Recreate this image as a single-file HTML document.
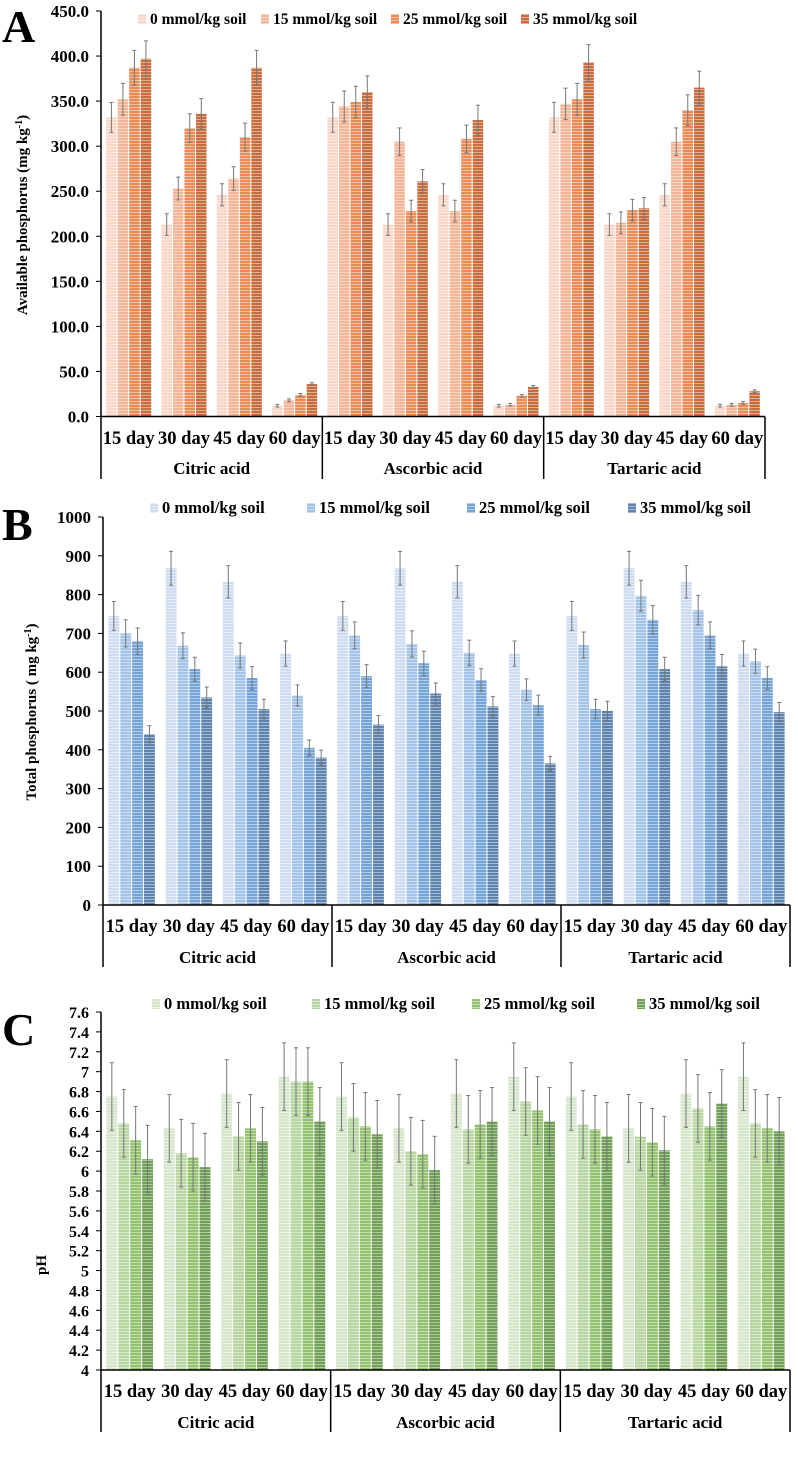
<!DOCTYPE html><html><head><meta charset="utf-8"><style>body{margin:0;background:#fff}svg{display:block}text{font-family:"Liberation Serif",serif;font-weight:bold;fill:#000}</style></head><body>
<svg id="s" width="798" height="1470" xmlns="http://www.w3.org/2000/svg"></svg>
<script>
const S=document.getElementById('s');let h='';
const cols=[['#f9d6c6','#f3b596','#e98b55','#c76c3c'],['#cddcf0','#a2c3e7','#74a3d5','#5c82ae'],['#d6e6cb','#b6d5a0','#92c26d','#70a056']];
let defs='<defs>';
cols.forEach((c,i)=>c.forEach((col,j)=>{defs+=`<pattern id="p${i}${j}" width="4" height="3" patternUnits="userSpaceOnUse"><rect width="4" height="3" fill="${col}"/><rect y="2" width="4" height="1" fill="#fff" opacity="0.45"/></pattern>`}));
defs+='</defs>';h+=defs;
function panel(o){
 const {pi,x0,x1,yb,yt,vmin,vmax,ticks,fmt,data,err,ty,gy,by,leg,legy,letter,ly,lab,labx,laby,tfs,lfs}=o;
 const sc=v=>yb-(v-vmin)/(vmax-vmin)*(yb-yt);
 ticks.forEach(t=>{h+=`<text x="${x0-12}" y="${sc(t)+6}" font-size="${tfs}" text-anchor="end">${fmt(t)}</text><line x1="${x0-5}" x2="${x0}" y1="${sc(t)}" y2="${sc(t)}" stroke="#000"/>`});
 const gw=(x1-x0)/3,sw=gw/4;
 const groups=['Citric acid','Ascorbic acid','Tartaric acid'],days=['15 day','30 day','45 day','60 day'];
 for(let g=0;g<3;g++){for(let d=0;d<4;d++){const cx=x0+g*gw+d*sw+sw/2;
  for(let k=0;k<4;k++){const v=data[g][d][k];const bw=sw*0.19;const bx=cx-2*bw-1.5+k*(bw+1);
   h+=`<rect x="${bx}" y="${sc(v)}" width="${bw}" height="${yb-sc(v)}" fill="url(#p${pi}${k})"/>`;
   const e=err(v),ex=bx+bw/2;h+=`<g stroke="#777" stroke-width="1"><line x1="${ex}" x2="${ex}" y1="${sc(v+e)}" y2="${sc(v-e)}"/><line x1="${ex-2}" x2="${ex+2}" y1="${sc(v+e)}" y2="${sc(v+e)}"/><line x1="${ex-2}" x2="${ex+2}" y1="${sc(v-e)}" y2="${sc(v-e)}"/></g>`}
  h+=`<text x="${cx}" y="${ty}" font-size="18.5" text-anchor="middle">${days[d]}</text>`}
  h+=`<text x="${x0+g*gw+gw/2}" y="${gy}" font-size="17" text-anchor="middle">${groups[g]}</text>`;
  h+=`<line x1="${x0+(g+1)*gw}" x2="${x0+(g+1)*gw}" y1="${yb}" y2="${by}" stroke="#000" stroke-width="1.5"/>`}
 h+=`<line x1="${x0}" x2="${x0}" y1="${yt}" y2="${by}" stroke="#000" stroke-width="1.5"/><line x1="${x0}" x2="${x1}" y1="${yb}" y2="${yb}" stroke="#000" stroke-width="1.5"/>`;
 const ln=['0 mmol/kg soil','15 mmol/kg soil','25 mmol/kg soil','35 mmol/kg soil'];
 leg.forEach((lx,k)=>{h+=`<rect x="${lx-12}" y="${legy-10}" width="8" height="10" fill="url(#p${pi}${k})"/><text x="${lx}" y="${legy}" font-size="${lfs}">${ln[k]}</text>`});
 h+=`<text x="2" y="${ly}" font-size="46">${letter}</text>`;
 h+=`<text transform="translate(${labx},${laby}) rotate(-90)" font-size="15" text-anchor="middle">${lab}</text>`;
}
panel({pi:0,x0:101,x1:765,yb:416.5,yt:11,vmin:0,vmax:450,ticks:[0,50,100,150,200,250,300,350,400,450],fmt:t=>t.toFixed(1),tfs:17,lfs:15.5,
data:[[[332,352,387,397],[213,253,320,336],[246,264,310,387],[12,18,24,36]],[[332,344,349,360],[213,305,228,261],[246,228,308,329],[12,13,23,33]],[[332,347,352,393],[213,215,229,231],[246,305,340,365],[12,13,15,28]]],
err:v=>v<50?1.5:Math.max(12,v*0.05),ty:444,gy:474,by:479,leg:[150,273,403,533],legy:24,letter:'A',ly:42,lab:'Available phosphorus (mg kg<tspan font-size="10" dy="-5">-1</tspan><tspan dy="5">)</tspan>',labx:27,laby:215});
panel({pi:1,x0:103,x1:790,yb:905,yt:517,vmin:0,vmax:1000,ticks:[0,100,200,300,400,500,600,700,800,900,1000],fmt:t=>t,tfs:17,lfs:16.5,
data:[[[745,700,680,440],[868,668,608,535],[833,643,585,505],[648,540,405,380]],[[745,695,590,465],[868,673,623,545],[833,650,580,512],[648,555,515,365]],[[745,670,505,500],[868,797,735,608],[833,760,695,615],[648,628,585,497]]],
err:v=>v*0.05,ty:932,gy:963,by:967,leg:[162,319,479,640],legy:513,letter:'B',ly:540,lab:'Total phosphorus ( mg kg<tspan font-size="10" dy="-5">-1</tspan><tspan dy="5">)</tspan>',labx:36,laby:712});
let ct=[];for(let i=0;i<=18;i++)ct.push(4+i*0.2);
panel({pi:2,x0:101,x1:790,yb:1370,yt:1012,vmin:4,vmax:7.6,ticks:ct,fmt:t=>+t.toFixed(1),tfs:16,lfs:16.5,
data:[[[6.75,6.48,6.31,6.12],[6.43,6.18,6.14,6.04],[6.78,6.35,6.43,6.30],[6.95,6.90,6.90,6.50]],[[6.75,6.54,6.45,6.37],[6.43,6.20,6.17,6.01],[6.78,6.42,6.47,6.50],[6.95,6.70,6.61,6.50]],[[6.75,6.47,6.42,6.35],[6.43,6.35,6.29,6.21],[6.78,6.63,6.45,6.68],[6.95,6.48,6.43,6.40]]],
err:v=>0.34,ty:1397,gy:1428,by:1432,leg:[164,324,484,649],legy:1009,letter:'C',ly:1045,lab:'pH',labx:46,laby:1265});
S.innerHTML=h;
</script></body></html>
